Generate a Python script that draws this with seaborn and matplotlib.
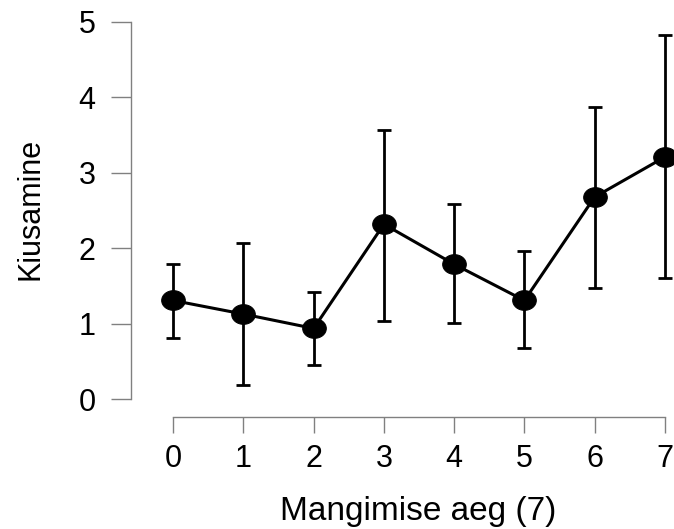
import numpy as np
import matplotlib
matplotlib.use("Agg")
import matplotlib.pyplot as plt
import seaborn as sns
from matplotlib.path import Path
from matplotlib.transforms import Affine2D

# values
weeks = np.array([0, 1, 2, 3, 4, 5, 6, 7])
means = np.array([1.31, 1.13, 0.94, 2.32, 1.79, 1.31, 2.68, 3.21])
lower = np.array([0.81, 0.19, 0.46, 1.04, 1.01, 0.68, 1.48, 1.61])
upper = np.array([1.79, 2.07, 1.42, 3.57, 2.59, 1.96, 3.87, 4.83])

sns.set_style("ticks")
plt.rcParams['font.family'] = ['Liberation Sans', 'DejaVu Sans']
plt.rcParams['text.color'] = 'black'
plt.rcParams['axes.labelcolor'] = 'black'
plt.rcParams['xtick.labelcolor'] = 'black'
plt.rcParams['ytick.labelcolor'] = 'black'

# slightly wide ellipse marker, like the stretched original
ellipse = Path.unit_circle().transformed(Affine2D().scale(1.2, 1.0))

fig = plt.figure(figsize=(6.74, 5.29), dpi=100)
ax = fig.add_axes([131 / 674, 112 / 529, 543 / 674, 417 / 529])

ax.errorbar(weeks, means, yerr=[means - lower, upper - means], fmt='none',
            ecolor='black', elinewidth=2, capsize=5, capthick=2, zorder=2)
sns.lineplot(x=weeks, y=means, ax=ax, color='black', lw=2.2,
             marker=ellipse, markersize=17, markeredgecolor='black',
             markerfacecolor='black', zorder=3)

ax.set_xlim(-0.6, 7.13)
ax.set_ylim(-0.233, 5.289)
ax.set_xticks(weeks)
ax.set_yticks(range(6))

for s in ['top', 'right']:
    ax.spines[s].set_visible(False)
ax.spines['left'].set_bounds(0, 5)
ax.spines['bottom'].set_bounds(0, 7)
for s in ['left', 'bottom']:
    ax.spines[s].set_color('#808080')
    ax.spines[s].set_linewidth(1.0)

ax.tick_params(axis='x', length=11.5, width=1, color='#808080', pad=8, labelsize=22)
ax.tick_params(axis='y', length=14.4, width=1, color='#808080', pad=11, labelsize=22)

ax.set_xlabel('Mangimise aeg (7)', fontsize=24)
ax.set_ylabel('Kiusamine', fontsize=22)
ax.xaxis.set_label_coords(0.5285, -0.189)
ax.yaxis.set_label_coords(-0.157, 0.5)

fig.savefig('out.png', dpi=100)
